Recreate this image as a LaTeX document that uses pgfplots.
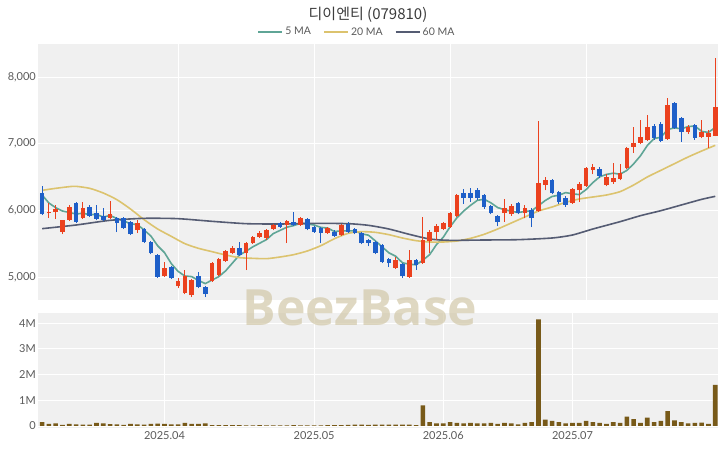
\documentclass[border=0pt]{standalone}
\usepackage{pgfplots}
\pgfplotsset{compat=1.18}
\usepackage{pgfplotstable}
\usepackage{fontspec}
\setmainfont{Lato}
\newfontfamily\kr{Noto Sans CJK KR}
\newfontfamily\wm{Open Sans}
\definecolor{upred}{RGB}{235,65,30}
\definecolor{dnblue}{RGB}{30,95,200}
\definecolor{maA}{RGB}{95,165,150}
\definecolor{maB}{RGB}{220,195,110}
\definecolor{maC}{RGB}{85,92,115}
\definecolor{volc}{RGB}{120,90,25}
\definecolor{bgc}{RGB}{240,240,240}
\definecolor{tickc}{RGB}{90,90,90}
\definecolor{wmc}{RGB}{210,200,168}

\pgfplotstableread{
i o h l c
1 5960 6110 5885 5975
2 5975 6080 5870 6020
3 5680 5860 5645 5850
4 5860 6080 5840 6050
6 5890 6130 5870 6030
10 5890 6140 5870 5940
14 5705 5850 5660 5810
18 5015 5230 5000 5135
20 4865 4990 4830 4940
21 4760 5105 4740 5015
22 4730 4970 4700 4955
25 4940 5230 4930 5210
26 5030 5290 5020 5270
27 5240 5400 5230 5390
28 5360 5470 5340 5435
30 5360 5530 5105 5510
31 5510 5620 5500 5600
32 5600 5690 5590 5660
33 5585 5720 5560 5705
34 5720 5800 5700 5780
36 5780 5860 5510 5840
38 5780 5900 5770 5885
42 5665 5750 5650 5735
44 5630 5800 5620 5780
52 5135 5300 5120 5255
54 5000 5405 4990 5255
56 5210 5900 5200 5555
57 5540 5700 5360 5675
58 5675 5800 5550 5765
59 5720 5830 5700 5810
60 5750 5980 5740 5960
61 5915 6250 5900 6230
68 5960 6170 5830 6030
69 5945 6100 5920 6065
71 5960 6080 5880 6030
73 5990 7340 5980 6410
74 6380 6500 6300 6455
78 6110 6330 6100 6320
79 6305 6420 6130 6395
80 6365 6650 6350 6635
81 6605 6690 6540 6650
83 6380 6540 6360 6500
84 6425 6710 6400 6485
85 6470 6700 6450 6560
86 6635 6950 6620 6935
87 6950 7250 6860 7010
88 7010 7350 6990 7100
89 7055 7430 7040 7250
92 7070 7685 7060 7580
95 7175 7280 7150 7250
97 7100 7350 7080 7175
98 7100 7200 6935 7160
99 7115 8285 7110 7550
}\upc

\pgfplotstableread{
i o h l c
0 6260 6365 5930 5945
5 6110 6130 5810 5830
7 6050 6080 5900 5915
8 5960 6085 5850 5870
9 5915 6035 5840 5855
11 5885 5900 5675 5810
12 5885 5900 5720 5735
13 5825 5840 5630 5645
15 5720 5740 5510 5525
16 5525 5540 5340 5360
17 5330 5350 4990 5000
19 5150 5170 4970 4985
23 5015 5080 4830 4850
24 4850 4870 4700 4745
29 5435 5530 5310 5330
35 5810 5830 5740 5750
37 5825 5975 5770 5780
39 5870 5880 5700 5720
40 5750 5770 5660 5675
41 5735 5750 5510 5660
43 5675 5700 5600 5615
45 5795 5830 5660 5675
46 5720 5740 5640 5660
47 5660 5680 5490 5510
48 5555 5570 5460 5510
49 5525 5540 5340 5360
50 5480 5500 5210 5225
51 5270 5290 5150 5210
53 5195 5210 4990 5015
55 5255 5270 5110 5180
62 6260 6320 6100 6185
63 6260 6340 6130 6185
64 6305 6330 6150 6185
65 6230 6250 6020 6050
66 6065 6080 5940 5960
67 5915 5930 5760 5825
70 6110 6130 5940 5960
72 6005 6030 5750 5885
75 6455 6470 6240 6260
76 6275 6290 6100 6125
77 6185 6220 6050 6080
82 6620 6650 6480 6515
90 7265 7290 7060 7085
91 7295 7330 7020 7040
93 7610 7620 7220 7235
94 7385 7400 7025 7175
96 7280 7300 7060 7085
}\dnc

\pgfplotstableread{
i v
0 6230
1 6110
2 6040
3 5990
4 5968
5 5945
6 5956
7 5935
8 5939
9 5900
10 5922
11 5878
12 5842
13 5797
14 5788
15 5705
16 5615
17 5468
18 5366
19 5201
20 5084
21 5015
22 5006
23 4949
24 4901
25 4955
26 5006
27 5093
28 5210
29 5327
30 5387
31 5453
32 5507
33 5561
34 5651
35 5699
36 5747
37 5771
38 5807
39 5795
40 5780
41 5744
42 5735
43 5681
44 5693
45 5693
46 5693
47 5648
48 5627
49 5543
50 5453
51 5363
52 5312
53 5213
54 5192
55 5183
56 5252
57 5336
58 5486
59 5597
60 5753
61 5888
62 5990
63 6074
64 6149
65 6167
66 6113
67 6041
68 6010
69 5986
70 5968
71 5982
72 5994
73 6070
74 6148
75 6208
76 6227
77 6266
78 6248
79 6236
80 6311
81 6416
82 6503
83 6539
84 6557
85 6542
86 6599
87 6698
88 6818
89 6971
90 7076
91 7097
92 7211
93 7238
94 7223
95 7256
96 7265
97 7184
98 7169
99 7244
}\maFive

\pgfplotstableread{
i v
0 6300
2 6330
4 6355
5 6360
7 6330
9 6260
11 6160
13 6020
15 5860
17 5720
19 5610
21 5500
23 5430
25 5380
27 5330
29 5290
31 5280
33 5275
35 5300
37 5335
39 5390
41 5470
43 5575
45 5655
47 5680
49 5670
51 5635
53 5585
55 5545
57 5525
59 5525
61 5540
63 5580
65 5640
67 5720
69 5810
71 5900
73 5990
75 6050
77 6120
79 6170
81 6200
83 6230
85 6280
87 6380
89 6500
91 6600
93 6700
95 6800
97 6890
99 6975
}\maTwenty

\pgfplotstableread{
i v
0 5725
5 5780
10 5850
15 5880
20 5875
25 5835
30 5800
35 5795
40 5805
45 5800
48 5775
51 5720
54 5640
57 5570
60 5550
65 5555
70 5560
75 5585
78 5630
81 5720
85 5830
88 5920
91 5995
94 6080
97 6165
99 6210
}\maSixty

\pgfplotstableread{
i v
0 0.15
1 0.08
2 0.10
3 0.04
4 0.08
5 0.06
6 0.05
7 0.05
8 0.12
9 0.10
10 0.07
11 0.06
12 0.04
13 0.08
14 0.06
15 0.05
16 0.08
17 0.09
18 0.08
19 0.06
20 0.06
21 0.12
22 0.08
23 0.08
24 0.10
25 0.03
26 0.03
27 0.03
28 0.03
29 0.03
30 0.02
31 0.02
32 0.03
33 0.02
34 0.02
35 0.02
36 0.02
37 0.03
38 0.02
39 0.02
40 0.02
41 0.02
42 0.03
43 0.03
44 0.03
45 0.04
46 0.05
47 0.05
48 0.04
49 0.05
50 0.05
51 0.05
52 0.05
53 0.05
54 0.05
55 0.03
56 0.80
57 0.15
58 0.10
59 0.10
60 0.15
61 0.12
62 0.10
63 0.12
64 0.10
65 0.10
66 0.12
67 0.08
68 0.12
69 0.10
70 0.06
71 0.12
72 0.15
73 4.15
74 0.25
75 0.20
76 0.15
77 0.10
78 0.12
79 0.12
80 0.20
81 0.15
82 0.12
83 0.08
84 0.15
85 0.12
86 0.36
87 0.27
88 0.12
89 0.32
90 0.15
91 0.20
92 0.58
93 0.22
94 0.15
95 0.10
96 0.12
97 0.13
98 0.08
99 1.60
}\vol

\pgfplotsset{
  common/.style={
    scale only axis, width=680pt,
    xmin=-0.6, xmax=99.4,
    axis line style={draw=none},
    major tick length=0pt,
    grid=major,
    major grid style={draw=white, line width=0.9pt},
    axis background/.style={fill=bgc},
    tick label style={font=\fontsize{11}{13}\selectfont, text=tickc},
    yticklabel style={inner sep=2pt},
  },
  wick/.style={draw=none, mark=none, forget plot,
    error bars/.cd, y dir=plus, y explicit, error mark=none,
    error bar style={draw=#1, line width=1.1pt, solid}},
  body/.style={draw=none, mark=none, forget plot,
    error bars/.cd, y dir=plus, y explicit, error mark=none,
    error bar style={draw=#1, line width=4.6pt, solid}},
}

\begin{document}
\begin{tikzpicture}
\useasboundingbox (0,0) rectangle (720pt,448pt);
\node[font=\kr\fontsize{15}{18}\selectfont, text={rgb,255:red,60;green,60;blue,60}] at (368pt,433pt) {디이엔티 (079810)};

\begin{axis}[common,
  at={(38pt,148pt)}, anchor=south west, height=256pt,
  ymin=4655, ymax=8495,
  xtick={20,40,60,80}, xticklabels={},
  ytick={5000,6000,7000,8000},
  yticklabels={{5,000},{6,000},{7,000},{8,000}},
  legend columns=3,
  legend style={at={(0.469,1.047)}, anchor=center, draw=none, fill=none,
    font=\fontsize{10.5}{12}\selectfont, text=tickc,
    /tikz/every even column/.append style={column sep=10pt}},
  legend image code/.code={\draw[#1, line width=2pt] (0pt,0pt) -- (24pt,0pt);},
]
\addplot[maA, line width=1.6pt] table[x=i,y=v] {\maFive};
\addlegendentry{5 MA}
\addplot[maB, line width=1.6pt, smooth, tension=0.4] table[x=i,y=v] {\maTwenty};
\addlegendentry{20 MA}
\addplot[maC, line width=1.6pt, smooth, tension=0.4] table[x=i,y=v] {\maSixty};
\addlegendentry{60 MA}

\addplot[wick=upred] table[x=i, y=l, y error plus expr=\thisrow{h}-\thisrow{l}] {\upc};
\addplot[body=upred] table[x=i, y=o, y error plus expr=\thisrow{c}-\thisrow{o}] {\upc};
\addplot[wick=dnblue] table[x=i, y=l, y error plus expr=\thisrow{h}-\thisrow{l}] {\dnc};
\addplot[body=dnblue] table[x=i, y=c, y error plus expr=\thisrow{o}-\thisrow{c}] {\dnc};
\end{axis}

\begin{axis}[common,
  at={(38pt,20pt)}, anchor=south west, height=115pt,
  ymin=-0.08, ymax=4.4,
  xtick={18,40,59,78},
  xticklabels={2025.04,2025.05,2025.06,2025.07},
  ytick={0,1,2,3,4},
  yticklabels={0,1M,2M,3M,4M},
]
\addplot[ybar, bar width=4.6pt, fill=volc, draw=none] table[x=i,y=v] {\vol};
\end{axis}

\node[font=\wm\bfseries\fontsize{50}{56}\selectfont, text=wmc, text opacity=0.7] at (360pt,140pt) {BeezBase};
\end{tikzpicture}
\end{document}
